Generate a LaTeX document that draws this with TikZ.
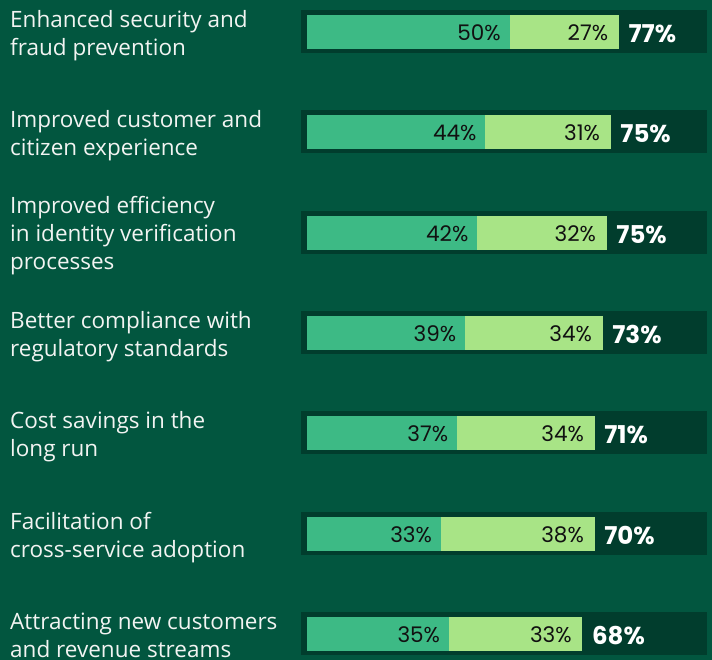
\documentclass[tikz,border=0pt]{standalone}
\usepackage{fontspec}
\setmainfont{Open Sans}
\newfontfamily\numfont{Poppins}
\definecolor{bgcol}{HTML}{02563F}
\definecolor{boxcol}{HTML}{013D2D}
\definecolor{midcol}{HTML}{3DBA85}
\definecolor{lightcol}{HTML}{A8E486}
\definecolor{inkcol}{HTML}{111111}
\definecolor{paper}{HTML}{F2F4F2}
\tikzset{
  outerbar/.style={fill=boxcol},
  midbar/.style={fill=midcol},
  lightbar/.style={fill=lightcol},
  inlabel/.style={inner sep=0pt, text=inkcol, font=\numfont\fontsize{21.5}{24}\selectfont, anchor=base east},
  totlabel/.style={inner sep=0pt, text=white, font=\numfont\bfseries\fontsize{24.5}{28}\selectfont, anchor=base west},
  catlabel/.style={inner sep=0pt, text=paper, font=\fontsize{22.5}{28.3}\selectfont, anchor=base west}
}
\newcommand\chartrow[7]{%
  \pgfmathsetmacro\ea{307+4.05*#3}%
  \pgfmathsetmacro\eb{\ea+4.05*#4}%
  \fill[outerbar] (301,#2) rectangle (706.7,#2+42.7);
  \fill[midbar] (307,#2+5) rectangle (\ea,#2+39);
  \fill[lightbar] (\ea,#2+5) rectangle (\eb,#2+39);
  \node[inlabel] (a#1) at (\ea-8.5,#2+30.7) {#3\%};
  \node[inlabel] (b#1) at (\eb-10.5,#2+30.7) {#4\%};
  \node[totlabel] (t#1) at (\eb+9.5,#2+32.5) {#5\%};
  \node[catlabel] (c#1) at (10,#2+#6) {\begin{tabular}[t]{@{}l@{}}#7\end{tabular}};
}
\begin{document}
\begin{tikzpicture}[x=1pt,y=-1pt]
\fill[bgcol] (0,0) rectangle (712,660);
\useasboundingbox (0,0) rectangle (712,660);
\chartrow{1}{10}{50}{27}{77}{17.3}{Enhanced security and\\fraud prevention}
\chartrow{2}{110}{44}{31}{75}{17.3}{Improved customer and\\citizen experience}
\chartrow{3}{211}{42}{32}{75}{2.3}{Improved efficiency\\in identity verification\\processes}
\chartrow{4}{311}{39}{34}{73}{17.3}{Better compliance with\\regulatory standards}
\chartrow{5}{411}{37}{34}{71}{17.3}{Cost savings in the\\long run}
\chartrow{6}{512}{33}{38}{70}{17.3}{Facilitation of\\cross-service adoption}
\chartrow{7}{612}{35}{33}{68}{17.3}{Attracting new customers\\and revenue streams}
\end{tikzpicture}
\end{document}
